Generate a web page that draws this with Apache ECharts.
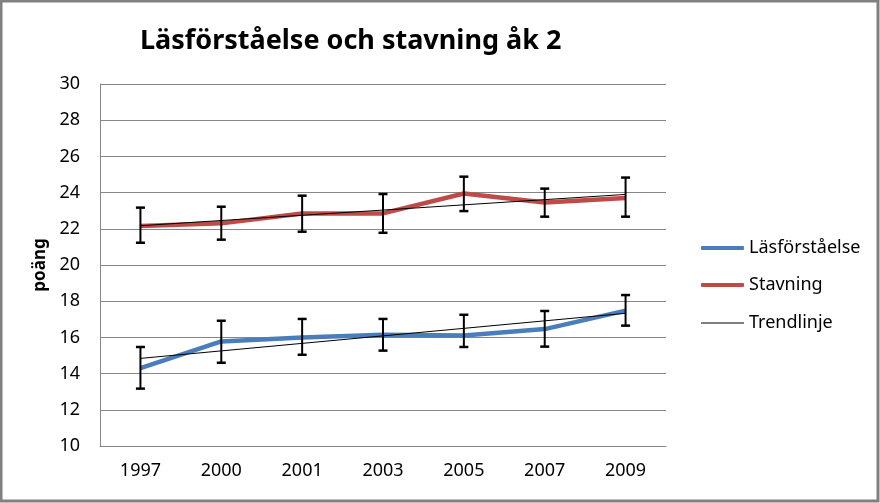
<!DOCTYPE html>
<html>
<head>
<meta charset="utf-8">
<script src="https://cdn.jsdelivr.net/npm/echarts@6/dist/echarts.min.js"></script>
<style>
html,body{margin:0;padding:0;background:#fff;}
#chart{width:880px;height:503px;}
</style>
</head>
<body>
<div id="chart"></div>
<script>
var years = ['1997', '2000', '2001', '2003', '2005', '2007', '2009'];
var lasValues = [14.3, 15.78, 16.0, 16.15, 16.1, 16.46, 17.48];
var lasLow = [13.17, 14.6, 15.04, 15.27, 15.47, 15.49, 16.65];
var lasHigh = [15.47, 16.92, 17.02, 17.02, 17.25, 17.46, 18.34];
var stavValues = [22.15, 22.3, 22.85, 22.85, 23.95, 23.45, 23.7];
var stavLow = [21.23, 21.4, 21.84, 21.78, 22.98, 22.67, 22.67];
var stavHigh = [23.17, 23.22, 23.83, 23.92, 24.88, 24.22, 24.83];
var lasTrend = [14.84, 17.33];
var stavTrend = [22.17, 23.9];
var yTicks = [10, 12, 14, 16, 18, 20, 22, 24, 26, 28, 30];

var FONT = 'Noto Sans';
var BLUE = '#4a7ebb';
var RED = '#be4b48';

function errData(low, high) {
  return years.map(function (y, i) { return [i, low[i], high[i]]; });
}

function renderErr(params, api) {
  var x = api.value(0);
  var lo = api.coord([x, api.value(1)]);
  var hi = api.coord([x, api.value(2)]);
  var half = 4.5;
  var st = { stroke: '#000', lineWidth: 2 };
  return {
    type: 'group',
    children: [
      { type: 'line', shape: { x1: lo[0], y1: lo[1], x2: hi[0], y2: hi[1] }, style: st },
      { type: 'line', shape: { x1: hi[0] - half, y1: hi[1], x2: hi[0] + half, y2: hi[1] }, style: { stroke: '#000', lineWidth: 2.5 } },
      { type: 'line', shape: { x1: lo[0] - half, y1: lo[1], x2: lo[0] + half, y2: lo[1] }, style: { stroke: '#000', lineWidth: 2.5 } }
    ]
  };
}

var chart = echarts.init(document.getElementById('chart'), null, { renderer: 'canvas' });

var legendText = { fontFamily: FONT, fontSize: 18, color: '#000' };

var option = {
  animation: false,
  backgroundColor: '#fff',
  title: {
    text: 'Läsförståelse och stavning åk 2',
    left: 135,
    top: 23,
    textStyle: { fontFamily: FONT, fontSize: 27, fontWeight: 'bold', color: '#000' }
  },
  graphic: [{
    type: 'rect',
    shape: { x: 1, y: 1, width: 877, height: 500 },
    style: { fill: 'none', stroke: '#808080', lineWidth: 3 },
    silent: true
  }],
  legend: [
    { data: [{ name: 'Läsförståelse', icon: 'roundRect', itemStyle: { color: BLUE } }], left: 696, top: 234, itemWidth: 43, itemHeight: 4, itemGap: 0, textStyle: legendText, selectedMode: false },
    { data: [{ name: 'Stavning', icon: 'roundRect', itemStyle: { color: RED } }], left: 696, top: 271, itemWidth: 43, itemHeight: 4, textStyle: legendText, selectedMode: false },
    { data: [{ name: 'Trendlinje', icon: 'rect', itemStyle: { color: '#000' } }], left: 696, top: 309, itemWidth: 43, itemHeight: 1, textStyle: legendText, selectedMode: false }
  ],
  grid: { left: 100, right: 214, top: 84, bottom: 57, containLabel: false },
  xAxis: {
    type: 'category',
    data: years,
    boundaryGap: true,
    axisLine: { lineStyle: { color: '#868686', width: 1 } },
    axisTick: { show: false },
    axisLabel: { fontFamily: FONT, fontSize: 18, color: '#000', margin: 16 }
  },
  yAxis: {
    type: 'value',
    min: yTicks[0],
    max: yTicks[yTicks.length - 1],
    interval: 2,
    name: 'poäng',
    nameLocation: 'middle',
    nameGap: 42,
    nameTextStyle: { fontFamily: FONT, fontSize: 17, fontWeight: 'bold', color: '#000' },
    axisLine: { show: true, lineStyle: { color: '#868686', width: 1 } },
    axisTick: { show: false },
    splitLine: { lineStyle: { color: '#868686', width: 1 } },
    axisLabel: { fontFamily: FONT, fontSize: 18, color: '#000', margin: 20 }
  },
  series: [
    {
      name: 'Läsförståelse', type: 'line', data: lasValues,
      symbol: 'none', lineStyle: { color: BLUE, width: 4.5 }, itemStyle: { color: BLUE }, z: 2
    },
    {
      name: 'Stavning', type: 'line', data: stavValues,
      symbol: 'none', lineStyle: { color: RED, width: 4.5 }, itemStyle: { color: RED }, z: 2
    },
    {
      name: 'Trendlinje', type: 'line',
      data: [[years[0], lasTrend[0]], [years[years.length - 1], lasTrend[1]]],
      symbol: 'none', lineStyle: { color: '#000', width: 1 }, itemStyle: { color: '#000' }, z: 3
    },
    {
      name: 'Trendlinje', type: 'line',
      data: [[years[0], stavTrend[0]], [years[years.length - 1], stavTrend[1]]],
      symbol: 'none', lineStyle: { color: '#000', width: 1 }, itemStyle: { color: '#000' }, z: 3
    },
    {
      name: 'errLas', type: 'custom', renderItem: renderErr, data: errData(lasLow, lasHigh), z: 4,
      encode: { x: 0, y: [1, 2] }
    },
    {
      name: 'errStav', type: 'custom', renderItem: renderErr, data: errData(stavLow, stavHigh), z: 4,
      encode: { x: 0, y: [1, 2] }
    }
  ]
};
chart.setOption(option);
</script>
</body>
</html>
